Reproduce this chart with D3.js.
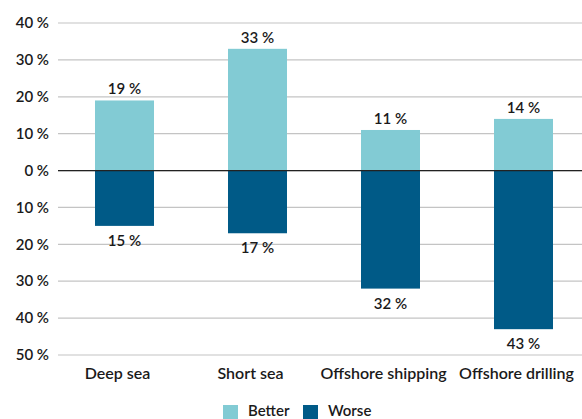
<!DOCTYPE html>
<html lang="en">
<head>
<meta charset="UTF-8">
<title>Better / Worse</title>
<style>
  body { margin: 0; background: #fff; }
  text { font-family: Lato, "Open Sans", sans-serif; fill: #1a1a1a; }
</style>
</head>
<body>
<script src="https://cdn.jsdelivr.net/npm/d3@7"></script>
<script>
var categories = ['Deep sea', 'Short sea', 'Offshore shipping', 'Offshore drilling']
var better = [19, 33, 11, 14]
var worse = [15, 17, 32, 43]
var ticks = [40, 30, 20, 10, 0, -10, -20, -30, -40, -50]
var seriesNames = ['Better', 'Worse']
var colors = ['#82cbd4', '#005a87']

var width = 582, height = 419
var svg = d3.select('body').append('svg').attr('width', width).attr('height', height)

var x = d3.scaleBand().domain(categories).range([95, 553]).paddingInner(74 / 133).paddingOuter(0)
var y = d3.scaleLinear().domain([-50, 40]).range([355, 23])

// grid
svg.append('g').selectAll('line').data(ticks).enter().append('line')
  .attr('x1', 58).attr('x2', 582)
  .attr('y1', d => y(d)).attr('y2', d => y(d))
  .attr('stroke', '#c4c4c4').attr('stroke-width', 1.2)

svg.append('g').selectAll('text').data(ticks).enter().append('text')
  .attr('x', 49).attr('y', d => y(d)).attr('dy', '0.35em')
  .attr('text-anchor', 'end').style('font-size', '15px').style('font-weight', 600)
  .text(d => Math.abs(d) + ' %')

// bars
var g = svg.append('g')
g.selectAll('.b').data(categories).enter().append('rect')
  .attr('x', d => x(d)).attr('width', x.bandwidth())
  .attr('y', (d, i) => y(better[i])).attr('height', (d, i) => y(0) - y(better[i]))
  .attr('fill', colors[0])
g.selectAll('.w').data(categories).enter().append('rect')
  .attr('x', d => x(d)).attr('width', x.bandwidth())
  .attr('y', y(0)).attr('height', (d, i) => y(-worse[i]) - y(0))
  .attr('fill', colors[1])

// zero line
svg.append('line').attr('x1', 58).attr('x2', 582).attr('y1', y(0)).attr('y2', y(0))
  .attr('stroke', '#222').attr('stroke-width', 1.3)

// value labels
g.selectAll('.bl').data(categories).enter().append('text')
  .attr('x', d => x(d) + x.bandwidth() / 2).attr('y', (d, i) => y(better[i]) - 6)
  .attr('text-anchor', 'middle').style('font-size', '15px').style('font-weight', 600)
  .text((d, i) => better[i] + ' %')
g.selectAll('.wl').data(categories).enter().append('text')
  .attr('x', d => x(d) + x.bandwidth() / 2).attr('y', (d, i) => y(-worse[i]) + 20)
  .attr('text-anchor', 'middle').style('font-size', '15px').style('font-weight', 600)
  .text((d, i) => worse[i] + ' %')

// category labels
svg.append('g').selectAll('text').data(categories).enter().append('text')
  .attr('x', d => x(d) + x.bandwidth() / 2 - 7).attr('y', 379)
  .attr('text-anchor', 'middle').style('font-size', '16px').style('font-weight', 600)
  .text(d => d)

// legend
var lg = svg.append('g').attr('transform', 'translate(223,405)')
var items = lg.selectAll('g').data(seriesNames).enter().append('g')
  .attr('transform', (d, i) => `translate(${i * 80},0)`)
items.append('rect').attr('width', 15).attr('height', 15).attr('fill', (d, i) => colors[i])
items.append('text').attr('x', 25).attr('y', 6).attr('dy', '0.35em')
  .style('font-size', '15px').style('font-weight', 600).text(d => d)
</script>
</body>
</html>
